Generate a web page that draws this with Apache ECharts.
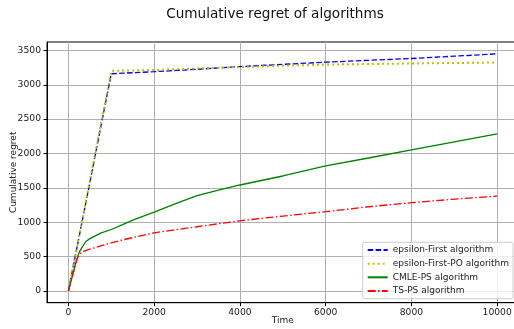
<!DOCTYPE html>
<html>
<head>
<meta charset="utf-8">
<script src="https://cdn.jsdelivr.net/npm/echarts@6/dist/echarts.min.js"></script>
<style>
  html, body { margin: 0; padding: 0; background: #fff; }
  #chart { width: 514px; height: 329px; }
</style>
</head>
<body>
<div id="chart"></div>
<script>
// Time steps at which the cumulative regret was sampled
const timeSteps = [0, 100, 200, 250, 300, 400, 500, 750, 1000, 1250, 1500, 2000, 2500, 3000, 3500, 4000, 5000, 6000, 7000, 8000, 9000, 10000];

// Cumulative regret of each algorithm at the time steps above
const epsilonFirst   = [0, 316, 632, 790, 948, 1264, 1580, 2370, 3160, 3168, 3175, 3190, 3208, 3225, 3245, 3265, 3297, 3329, 3356, 3382, 3416, 3450];
const epsilonFirstPO = [0, 320, 641, 801, 961, 1282, 1602, 2403, 3203, 3206, 3209, 3215, 3226, 3238, 3248, 3257, 3277, 3294, 3302, 3309, 3317, 3324];
const cmlePS         = [0, 234, 468, 560, 615, 715, 760, 840, 893, 960, 1030, 1145, 1270, 1385, 1465, 1541, 1672, 1818, 1934, 2051, 2170, 2284];
const tsPS           = [0, 232, 464, 525, 558, 585, 607, 655, 700, 740, 775, 845, 890, 933, 977, 1020, 1089, 1152, 1224, 1283, 1335, 1380];

const seriesNames = ['epsilon-First algorithm', 'epsilon-First-PO algorithm', 'CMLE-PS algorithm', 'TS-PS algorithm'];

// Axis tick values
const xTicks = [0, 2000, 4000, 6000, 8000, 10000];
const yTicks = [0, 500, 1000, 1500, 2000, 2500, 3000, 3500];

const pairs = vals => timeSteps.map((t, i) => [t, vals[i]]);

const tickFont = { fontFamily: 'DejaVu Sans', fontSize: 9.2, color: '#222' };
const plain = v => String(v);

const chart = echarts.init(document.getElementById('chart'), null, { renderer: 'canvas' });

chart.setOption({
  animation: false,
  backgroundColor: '#fff',
  graphic: [{
    type: 'text',
    x: 275, y: 14,
    style: {
      text: 'Cumulative regret of algorithms',
      fontFamily: 'DejaVu Sans', fontSize: 13.6, fill: '#111',
      textAlign: 'center', textVerticalAlign: 'middle'
    }
  }],
  grid: {
    left: 47, top: 42, width: 471.6, height: 260.7,
    containLabel: false, outerBoundsMode: 'none',
    show: true, borderColor: '#000', borderWidth: 1, backgroundColor: 'transparent'
  },
  xAxis: {
    type: 'value', min: -500, max: 10500,
    name: 'Time', nameLocation: 'middle', nameGap: 13, nameMoveOverlap: false,
    nameTextStyle: { fontFamily: 'DejaVu Sans', fontSize: 9, color: '#222' },
    axisLine: { show: true, onZero: false, lineStyle: { color: '#000', width: 1 } },
    axisTick: { show: true, length: 3.5, lineStyle: { color: '#000' }, customValues: xTicks },
    axisLabel: Object.assign({ margin: 5, customValues: xTicks, formatter: plain }, tickFont),
    splitLine: { show: true, lineStyle: { color: '#b0b0b0', width: 1 } }
  },
  yAxis: {
    type: 'value', min: -172.5, max: 3622.5,
    name: 'Cumulative regret', nameLocation: 'middle', nameGap: 29, nameMoveOverlap: false,
    nameTextStyle: { fontFamily: 'DejaVu Sans', fontSize: 9, color: '#222' },
    axisLine: { show: true, onZero: false, lineStyle: { color: '#000', width: 1 } },
    axisTick: { show: true, length: 3.5, lineStyle: { color: '#000' }, customValues: yTicks },
    axisLabel: Object.assign({ margin: 6, customValues: yTicks, formatter: plain }, tickFont),
    splitLine: { show: true, lineStyle: { color: '#b0b0b0', width: 1 } }
  },
  legend: {
    orient: 'vertical',
    left: 362.7, top: 242.3,
    padding: [1, 4, 1, 4],
    itemWidth: 20, itemHeight: 8, itemGap: 0,
    itemStyle: { opacity: 0 },
    backgroundColor: 'rgba(255,255,255,0.8)',
    borderColor: '#cccccc', borderWidth: 1, borderRadius: 2,
    textStyle: { fontFamily: 'DejaVu Sans', fontSize: 9, color: '#222', lineHeight: 13.6 },
    data: seriesNames
  },
  series: [
    {
      name: seriesNames[0], type: 'line', data: pairs(epsilonFirst),
      symbol: 'none', showSymbol: false,
      lineStyle: { color: '#0000ff', width: 1.3, type: [5.5, 2.4] },
      itemStyle: { color: '#0000ff' }
    },
    {
      name: seriesNames[1], type: 'line', data: pairs(epsilonFirstPO),
      symbol: 'none', showSymbol: false,
      lineStyle: { color: '#bfbf00', width: 2, type: [2, 3] },
      itemStyle: { color: '#bfbf00' }
    },
    {
      name: seriesNames[2], type: 'line', data: pairs(cmlePS),
      symbol: 'none', showSymbol: false,
      lineStyle: { color: '#008000', width: 1.3, type: 'solid' },
      itemStyle: { color: '#008000' }
    },
    {
      name: seriesNames[3], type: 'line', data: pairs(tsPS),
      symbol: 'none', showSymbol: false,
      lineStyle: { color: '#ff0000', width: 1.3, type: [8, 2.4, 1.5, 2.4] },
      itemStyle: { color: '#ff0000' }
    }
  ]
});
</script>
</body>
</html>
